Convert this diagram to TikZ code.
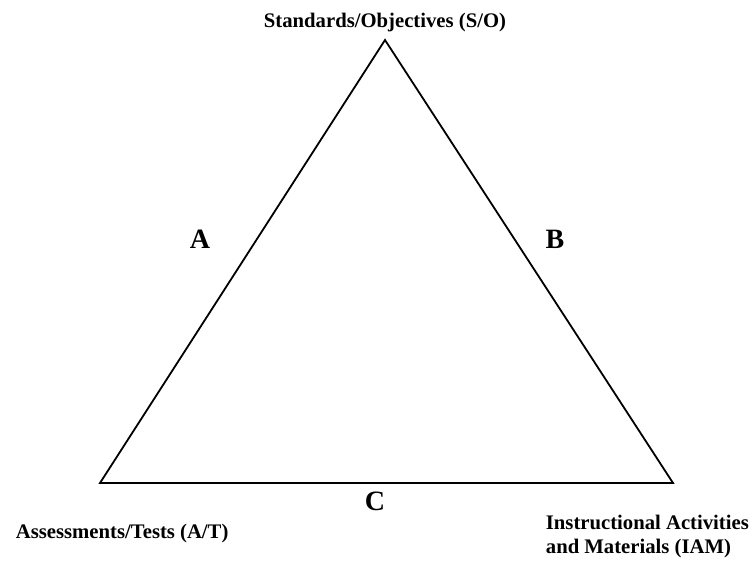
\documentclass[tikz,border=0pt]{standalone}
\usepackage{fontspec}
\setmainfont{Liberation Serif}
\begin{document}
\begin{tikzpicture}[x=1pt, y=-1pt, line width=1.8pt]
	\tikzstyle{every node}=[inner sep=0pt, font=\bfseries\fontsize{20.7}{24}\selectfont]
	\tikzstyle{side label}=[font=\bfseries\fontsize{28}{30}\selectfont, anchor=base]
	\useasboundingbox (0,0) rectangle (754,565);

	\coordinate (SO) at (385,40);
	\coordinate (AT) at (100,483);
	\coordinate (IAM) at (673,483);

	\draw (SO) -- (IAM) -- (AT) -- cycle;

	\node (SOtext) [anchor=base] at (385,27) {Standards/Objectives (S/O)};
	\node (ATtext) [anchor=base west] at (15,538) {Assessments/Tests (A/T)};
	\node (IAMtext) [anchor=base west, align=left] at (545,553) {Instructional Activities\\and Materials (IAM)};

	\node (A) [side label] at (200,248) {A};
	\node (B) [side label] at (555,248) {B};
	\node (C) [side label] at (375,510) {C};
\end{tikzpicture}
\end{document}
